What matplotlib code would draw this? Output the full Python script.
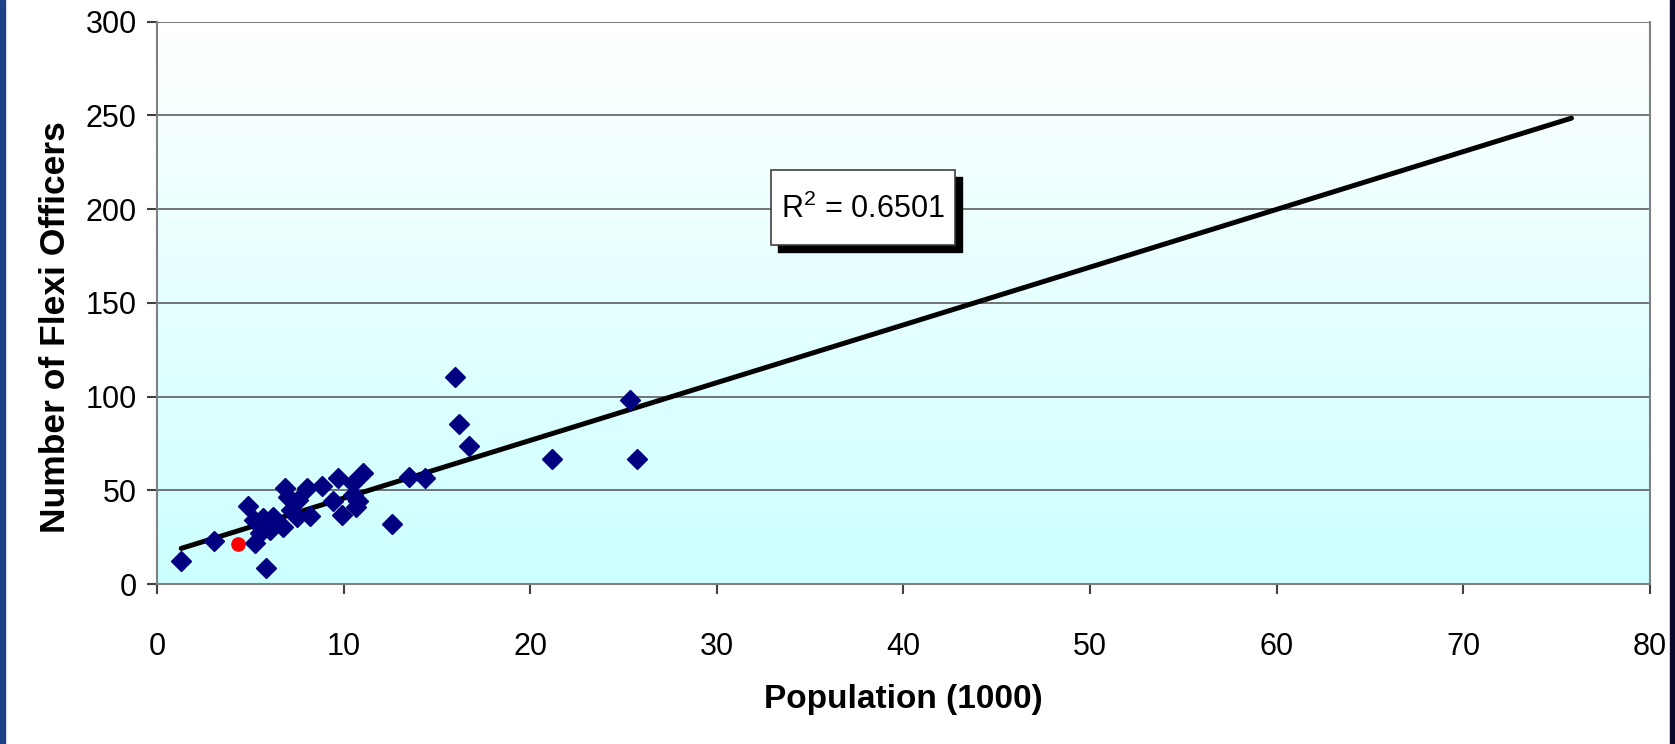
import numpy as np
import matplotlib
matplotlib.use('Agg')
import matplotlib.pyplot as plt
import matplotlib.transforms as mtransforms
from matplotlib.colors import LinearSegmentedColormap
from matplotlib.patches import Rectangle

# data
pop_x = [1.3, 3.05, 4.86, 5.84, 5.25, 5.2, 5.7, 5.52, 6.23, 6.05, 6.77, 6.86, 7.04,
         7.57, 7.2, 7.48, 8.02, 8.2, 8.83, 9.68, 9.41, 9.93, 10.5, 11.06, 10.5,
         10.66, 10.8, 12.6, 13.5, 14.36, 15.97, 16.2, 16.7, 21.15, 25.35, 25.74]
officers_y = [12.5, 23.2, 41.6, 8.5, 21.7, 34, 35, 27, 35.9, 28.8, 30.6, 51, 46.6,
              44.8, 39.5, 35.9, 51, 36.3, 52.4, 56.7, 44.3, 36.8, 53.7, 59, 47.5,
              40.9, 44.5, 31.8, 56.9, 56.4, 110.5, 85.5, 73.4, 66.5, 98.2, 66.5]
highlight_x = [4.32]
highlight_y = [21.3]
trend_x = [1.3, 75.8]
trend_y = [19.0, 248.5]
r2_text = 'R$^2$ = 0.6501'

plt.rcParams['font.family'] = ['Liberation Sans', 'DejaVu Sans']
plt.rcParams['mathtext.fontset'] = 'custom'
plt.rcParams['mathtext.rm'] = 'Liberation Sans'

fig = plt.figure(figsize=(16.75, 7.44), dpi=100)
fig.patch.set_facecolor('white')
ax = fig.add_axes([0.0937, 0.215, 0.8913, 0.756])

# slide edges
fig.patches.append(Rectangle((0, 0), 5 / 1675, 1, transform=fig.transFigure,
                             color='#1f3f86', zorder=-5))
fig.patches.append(Rectangle((1670 / 1675, 0), 5 / 1675, 1, transform=fig.transFigure,
                             color='#0a0a2a', zorder=-5))

# plot area gradient white -> light cyan
cmap = LinearSegmentedColormap.from_list('bg', ['#CCFFFF', '#FFFFFF'])
grad = np.linspace(0, 1, 256)[:, None]
ax.imshow(grad, extent=[0, 80, 0, 300], origin='lower', aspect='auto',
          cmap=cmap, zorder=0)

for yv in range(50, 301, 50):
    ax.axhline(yv, color='#505050', lw=1.1, zorder=1)

ax.plot(trend_x, trend_y, color='black', lw=3.6, solid_capstyle='round', zorder=3)
ax.plot(pop_x, officers_y, 'D', color='#000080', ms=10.5, mec='#000080', zorder=4)
ax.plot(highlight_x, highlight_y, 'o', color='#ff0000', ms=9.5, zorder=4)

ax.set_xlim(0, 80)
ax.set_ylim(0, 300)
ax.set_xticks(range(0, 81, 10))
ax.set_yticks(range(0, 301, 50))
for s in ['left', 'bottom', 'right']:
    ax.spines[s].set_color('#808080')
    ax.spines[s].set_linewidth(1.5)
ax.spines['top'].set_visible(False)
ax.tick_params(axis='both', direction='out', length=7.5, width=1.5, color='#404040',
               labelsize=22)
ax.tick_params(axis='x', pad=27)
ax.tick_params(axis='y', pad=7)

ax.set_xlabel('Population (1000)', fontsize=24, fontweight='bold', labelpad=16)
ax.set_ylabel('Number of Flexi Officers', fontsize=25.5, fontweight='bold',
              labelpad=10, y=0.457)

# R^2 box with drop shadow
shadow = mtransforms.offset_copy(ax.transData, fig=fig, x=7, y=-7, units='dots')
ax.add_patch(Rectangle((32.9, 180.8), 9.87, 40, transform=shadow,
                       fc='black', ec='black', zorder=5))
ax.add_patch(Rectangle((32.9, 180.8), 9.87, 40, fc='white', ec='#404040',
                       lw=1.2, zorder=6))
ax.text(37.8, 200, r2_text, fontsize=22, color='black', ha='center', va='center',
        zorder=7)

fig.savefig('out.png', dpi=100)
